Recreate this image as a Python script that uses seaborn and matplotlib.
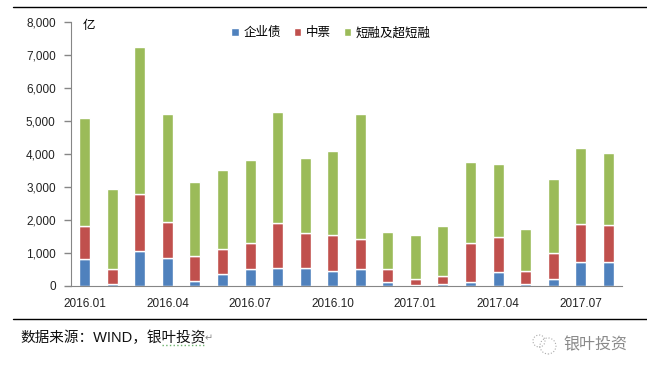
import matplotlib
matplotlib.use('Agg')
import matplotlib.pyplot as plt
import seaborn as sns
import numpy as np
from matplotlib.lines import Line2D
from matplotlib.patches import Circle

months = ['2016.01', '2016.02', '2016.03', '2016.04', '2016.05', '2016.06', '2016.07',
          '2016.08', '2016.09', '2016.10', '2016.11', '2016.12', '2017.01', '2017.02',
          '2017.03', '2017.04', '2017.05', '2017.06', '2017.07', '2017.08']
corporate = [800, 50, 1040, 840, 130, 350, 490, 530, 530, 430,
             490, 110, 10, 50, 120, 410, 50, 190, 710, 710]
mtn = [1000, 450, 1740, 1085, 760, 755, 795, 1370, 1060, 1100,
       920, 390, 180, 235, 1165, 1060, 385, 795, 1155, 1125]
short_term = [3290, 2430, 4470, 3285, 2255, 2405, 2530, 3375, 2285, 2557,
              3805, 1120, 1340, 1515, 2465, 2220, 1275, 2255, 2315, 2195]
names = ['企业债', '中票', '短融及超短融']
colors = ['#4F81BD', '#C0504D', '#9BBB59']
gray = '#868686'


def main():
    sns.set_style('white')
    plt.rcParams['font.family'] = ['Liberation Sans', 'Noto Sans CJK SC', 'DejaVu Sans']

    fig = plt.figure(figsize=(6.47, 3.73), dpi=100)
    ax = fig.add_axes([71 / 647, 1 - 285.5 / 373, 551 / 647, 263.5 / 373])

    bottom = np.zeros(len(months))
    for name, values, color in zip(names, [corporate, mtn, short_term], colors):
        sns.barplot(x=months, y=values, bottom=bottom, color=color, width=0.4,
                    saturation=1, label=name, ax=ax, legend=False, errorbar=None)
        bottom = bottom + np.array(values)

    ax.set_xlim(-0.5, len(months) - 0.5)
    ax.set_ylim(0, 8000)
    ax.set_yticks(range(0, 8001, 1000))
    ax.set_yticklabels([f'{v:,}' for v in range(0, 8001, 1000)], fontsize=8.5, color='#222222')
    ax.set_xticks(range(len(months)))
    ax.set_xticklabels([m if i % 3 == 0 else '' for i, m in enumerate(months)],
                       fontsize=8.5, color='#222222')
    ax.set_xticks(np.arange(len(months) + 1) - 0.5, minor=True)
    ax.tick_params(axis='x', which='major', length=0, pad=9)
    ax.tick_params(axis='x', which='minor', length=5, width=1, color=gray, direction='out')
    ax.tick_params(axis='y', length=5, width=1, color=gray, direction='out', left=True, pad=6)
    sns.despine(ax=ax)
    ax.spines['left'].set_color(gray)
    ax.spines['bottom'].set_color(gray)

    leg = ax.legend(loc='center', bbox_to_anchor=(331 / 647, 1 - 33 / 373),
                    bbox_transform=fig.transFigure, ncol=3, frameon=False, fontsize=9,
                    handlelength=0.6, handleheight=0.6, handletextpad=0.4,
                    columnspacing=1.0, borderpad=0, labelspacing=0)
    for text in leg.get_texts():
        text.set_color('black')

    fig.text(89 / 647, 1 - 26 / 373, '亿', fontsize=9, ha='center', va='center', color='black')

    # rules above and below the chart
    for y in [7, 129.5 + 189.5]:
        fig.add_artist(Line2D([13 / 647, 1], [1 - y / 373, 1 - y / 373], color='black', lw=1))

    fig.text(20 / 647, 1 - 338 / 373, '数据来源：WIND，银叶投资', fontsize=10.5,
             ha='left', va='center', color='#111111')
    fig.text(209 / 647, 1 - 338 / 373, '↵', fontsize=7, ha='center', va='center',
             color='#888888', family='DejaVu Sans')
    fig.add_artist(Line2D([162 / 647, 205 / 647], [1 - 345 / 373, 1 - 345 / 373],
                          color='#6DB36D', lw=1, ls=':'))

    # watermark
    fig.text(595 / 647, 1 - 345 / 373, '银叶投资', fontsize=11.5, ha='center', va='center',
             color='#8A8A8A')
    px = fig.transFigure.inverted()
    for x, y, r in [(539, 341, 6), (548, 346, 8)]:
        fx, fy = x / 647, 1 - y / 373
        fig.add_artist(Circle((x, 373 - y), r, transform=None, fill=False,
                              ec='#AAAAAA', lw=0.8, ls=':'))

    fig.savefig('out.png', dpi=100)


if __name__ == "__main__":
    main()
